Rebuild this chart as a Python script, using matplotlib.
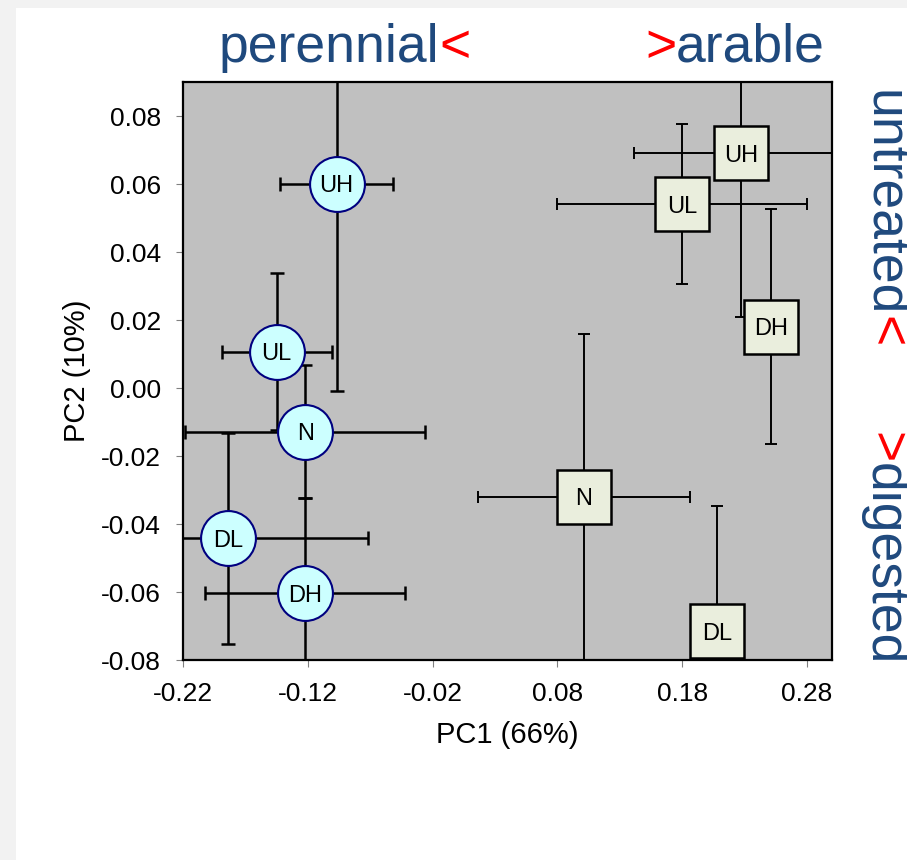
import matplotlib
matplotlib.use('Agg')
import matplotlib.pyplot as plt
from matplotlib.patches import Rectangle

plt.rcParams['font.family'] = ['Liberation Sans', 'DejaVu Sans']
plt.rcParams['axes.unicode_minus'] = False

# ---------------- data ----------------
per_labels = ['UH', 'UL', 'N', 'DL', 'DH']
per_x = [-0.097, -0.145, -0.122, -0.184, -0.122]
per_y = [0.060, 0.0107, -0.0128, -0.0442, -0.0603]
per_xerr = [0.045, 0.044, 0.096, 0.112, 0.080]
per_yerr = [0.061, 0.023, 0.0195, 0.031, 0.028]

ara_labels = ['UH', 'UL', 'DH', 'N', 'DL']
ara_x = [0.227, 0.180, 0.251, 0.101, 0.208]
ara_y = [0.069, 0.054, 0.018, -0.032, -0.0716]
ara_xerr = [0.086, 0.100, 0.0, 0.085, 0.0]
ara_yerr = [0.048, 0.0235, 0.0345, 0.048, 0.037]

xticks = [-0.22, -0.12, -0.02, 0.08, 0.18, 0.28]
yticks = [-0.08, -0.06, -0.04, -0.02, 0.00, 0.02, 0.04, 0.06, 0.08]
xlabel = 'PC1 (66%)'
ylabel = 'PC2 (10%)'

BLUE = '#1f497d'
RED = '#ff0000'

W, H = 907, 860
fig = plt.figure(figsize=(W / 100, H / 100), dpi=100, facecolor='white')


def fx(px):
    return px / W


def fy(py):
    return 1 - py / H


fig.patches.append(Rectangle((0, 0), fx(16), 1, transform=fig.transFigure,
                             facecolor='#f2f2f2', edgecolor='none', zorder=0))
fig.patches.append(Rectangle((0, fy(8)), 1, 8 / H, transform=fig.transFigure,
                             facecolor='#f2f2f2', edgecolor='none', zorder=0))

ax = fig.add_axes([fx(183), fy(660), fx(832) - fx(183), fy(82) - fy(660)])
ax.set_facecolor('#c0c0c0')
ax.set_xlim(-0.22, 0.30)
ax.set_ylim(-0.08, 0.09)
ax.set_xticks(xticks)
ax.set_xticklabels([f'{v:.2f}' for v in xticks])
ax.set_yticks(yticks)
ax.set_yticklabels([f'{v:.2f}' for v in yticks])
ax.tick_params(direction='out', length=5, width=0.8, color='#808080',
               labelsize=19, pad=11)
for s in ax.spines.values():
    s.set_linewidth(1.6)
    s.set_color('black')

# error bars
ax.errorbar(per_x, per_y, xerr=per_xerr, yerr=per_yerr, fmt='none',
            ecolor='black', elinewidth=1.8, capsize=4.7, capthick=1.8, zorder=2)
ax.errorbar(ara_x, ara_y, xerr=ara_xerr, yerr=ara_yerr, fmt='none',
            ecolor='black', elinewidth=1.4, capsize=4.5, capthick=1.4, zorder=2)

# markers
ax.plot(per_x, per_y, ls='none', marker='o', ms=39.5, mfc='#ccffff',
        mec='#000080', mew=1.5, zorder=3)
ax.plot(ara_x, ara_y, ls='none', marker='s', ms=39, mfc='#eaeedd',
        mec='black', mew=1.8, zorder=3)

for x, y, l in zip(per_x, per_y, per_labels):
    ax.text(x, y, l, ha='center', va='center_baseline', fontsize=17, zorder=4)
for x, y, l in zip(ara_x, ara_y, ara_labels):
    ax.text(x, y, l, ha='center', va='center_baseline', fontsize=17, zorder=4)

ax.set_xlabel(xlabel, fontsize=21)
ax.xaxis.set_label_coords(0.5, -0.105)
ax.set_ylabel(ylabel, fontsize=21)
ax.yaxis.set_label_coords(-0.1418, 0.5)

# ---- side annotations (two-colour strings, drawn as separate pieces) ----
FS = 38.5
renderer = fig.canvas.get_renderer()


def full_extent(x, y, s, **kw):
    t = fig.text(x, y, s, fontsize=FS, **kw)
    bb = t.get_window_extent(renderer)
    t.remove()
    return bb


# perennial<
kw = dict(ha='left', va='baseline')
bb = full_extent(fx(219), fy(62), 'perennial<', **kw)
fig.text(fx(219), fy(62), 'perennial', fontsize=FS, color=BLUE, **kw)
fig.text(bb.x1 / W, fy(62), '<', ha='right', va='baseline', fontsize=FS, color=RED)

# >arable
bb = full_extent(fx(645), fy(62), '>arable', **kw)
fig.text(fx(645), fy(62), '>', fontsize=FS, color=RED, **kw)
fig.text(bb.x1 / W, fy(62), 'arable', ha='right', va='baseline', fontsize=FS, color=BLUE)

# untreated<  (vertical, reading downward)
rkw = dict(rotation=270, rotation_mode='anchor', va='baseline')
bb = full_extent(fx(870), fy(90), 'untreated<', ha='left', **rkw)
fig.text(fx(870), fy(90), 'untreated', ha='left', fontsize=FS, color=BLUE, **rkw)
fig.text(fx(870), bb.y0 / H, '<', ha='right', fontsize=FS, color=RED, **rkw)

# >digested
bb = full_extent(fx(870), fy(432), '>digested', ha='left', **rkw)
fig.text(fx(870), fy(432), '>', ha='left', fontsize=FS, color=RED, **rkw)
fig.text(fx(870), bb.y0 / H, 'digested', ha='right', fontsize=FS, color=BLUE, **rkw)

fig.savefig('out.png', dpi=100, facecolor=fig.get_facecolor())
